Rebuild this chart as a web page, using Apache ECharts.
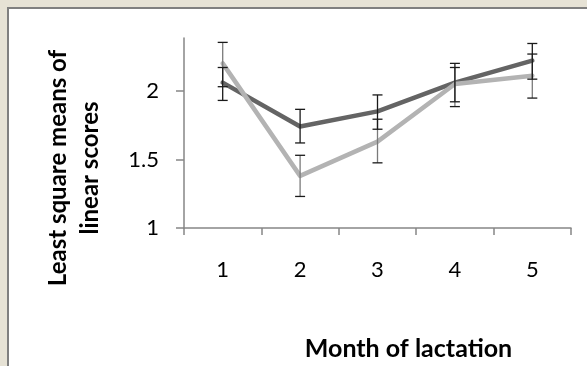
<!DOCTYPE html>
<html>
<head>
<meta charset="utf-8">
<script src="https://cdn.jsdelivr.net/npm/echarts@6/dist/echarts.min.js"></script>
<style>
  html, body { margin: 0; padding: 0; width: 587px; height: 366px; overflow: hidden; background: #e6e2d5; }
  #panel { position: absolute; left: 7px; top: 7px; width: 590px; height: 370px; background: #ffffff; border-left: 2px solid #7f7f7f; border-top: 2px solid #7f7f7f; }
  #chart { position: absolute; left: 0; top: 0; width: 587px; height: 366px; }
</style>
</head>
<body>
<div id="panel"></div>
<div id="chart"></div>
<script>
// ---- data ----
const months = ['1', '2', '3', '4', '5'];
const darkValues = [2.06, 1.74, 1.85, 2.06, 2.22];
const darkLow    = [1.93, 1.62, 1.72, 1.92, 2.085];
const darkHigh   = [2.17, 1.865, 1.97, 2.20, 2.345];
const lightValues = [2.20, 1.38, 1.63, 2.05, 2.11];
const lightLow    = [2.03, 1.23, 1.475, 1.885, 1.947];
const lightHigh   = [2.353, 1.53, 1.793, 2.17, 2.268];
const yTickValues = [1, 1.5, 2];
const xAxisTitle = 'Month of lactation';
const yAxisTitle = 'Least square means of\nlinear scores';

const FONT = 'Lato, "Open Sans", sans-serif';

function errData(low, high) {
  return months.map((m, i) => [i, low[i], high[i]]);
}

function errRender(stemColor) {
  return function (params, api) {
    const x = api.value(0);
    const lo = api.coord([x, api.value(1)]);
    const hi = api.coord([x, api.value(2)]);
    const half = 5;
    return {
      type: 'group',
      children: [
        { type: 'line', shape: { x1: hi[0], y1: hi[1], x2: lo[0], y2: lo[1] },
          style: { stroke: stemColor, lineWidth: 1.3 } },
        { type: 'line', shape: { x1: hi[0] - half, y1: hi[1], x2: hi[0] + half, y2: hi[1] },
          style: { stroke: '#1a1a1a', lineWidth: 1.3 } },
        { type: 'line', shape: { x1: lo[0] - half, y1: lo[1], x2: lo[0] + half, y2: lo[1] },
          style: { stroke: '#1a1a1a', lineWidth: 1.3 } }
      ]
    };
  };
}

const chart = echarts.init(document.getElementById('chart'), null, { renderer: 'canvas' });
chart.setOption({
  backgroundColor: 'transparent',
  animation: false,
  grid: { left: 184, right: 16, top: 38, bottom: 138, containLabel: false, outerBoundsMode: 'none' },
  xAxis: {
    type: 'category',
    data: months,
    boundaryGap: true,
    name: xAxisTitle,
    nameLocation: 'middle',
    nameGap: 108,
    nameTextStyle: { fontFamily: FONT, fontWeight: 'bold', fontSize: 25, color: '#000', padding: [0, 0, 0, 62] },
    axisLine: { lineStyle: { color: '#868686', width: 1.5 } },
    axisTick: { show: true, length: 7, alignWithLabel: false, lineStyle: { color: '#868686', width: 1.5 } },
    axisLabel: { fontFamily: FONT, fontSize: 22, color: '#000', margin: 31 },
    splitLine: { show: false }
  },
  yAxis: {
    type: 'value',
    min: 1,
    max: 2.385,
    name: yAxisTitle,
    nameLocation: 'middle',
    nameRotate: 90,
    nameGap: 78,
    nameTextStyle: { fontFamily: FONT, fontWeight: 'bold', fontSize: 24, lineHeight: 32, color: '#000', padding: [0, 70, 0, 0] },
    axisLine: { show: true, lineStyle: { color: '#868686', width: 1.5 } },
    axisTick: { show: true, length: 8, customValues: yTickValues, lineStyle: { color: '#868686', width: 1.5 } },
    axisLabel: { fontFamily: FONT, fontSize: 22, color: '#000', margin: 25, customValues: yTickValues },
    splitLine: { show: false }
  },
  series: [
    {
      name: 'dark', type: 'line', data: darkValues, showSymbol: false, symbol: 'none', z: 2,
      lineStyle: { color: '#646464', width: 4.5, cap: 'round', join: 'round' }
    },
    {
      name: 'light', type: 'line', data: lightValues, showSymbol: false, symbol: 'none', z: 3,
      lineStyle: { color: '#b3b3b3', width: 4.5, cap: 'round', join: 'round' }
    },
    {
      name: 'light error', type: 'custom', data: errData(lightLow, lightHigh), z: 4,
      renderItem: errRender('#7a7a7a'), encode: { x: 0, y: [1, 2] }
    },
    {
      name: 'dark error', type: 'custom', data: errData(darkLow, darkHigh), z: 5,
      renderItem: errRender('#1a1a1a'), encode: { x: 0, y: [1, 2] }
    }
  ]
});
</script>
</body>
</html>
